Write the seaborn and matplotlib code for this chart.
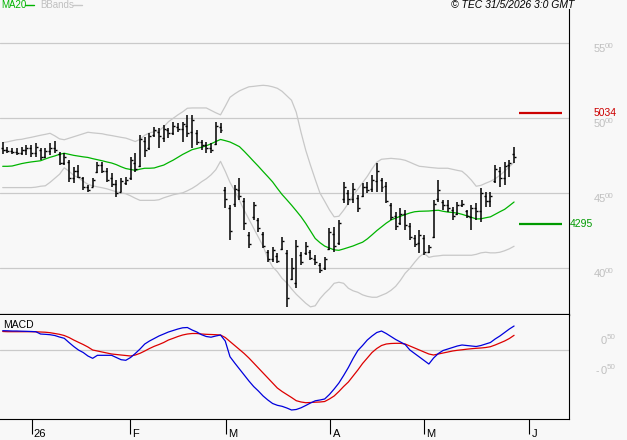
import numpy as np
import pandas as pd
import matplotlib
matplotlib.use("Agg")
import matplotlib.pyplot as plt
from matplotlib.lines import Line2D
from matplotlib.transforms import blended_transform_factory
import seaborn as sns

# ---------------- data ----------------
opens = [4800,4790,4780,4775,4770,4790,4800,4770,4790,4745,
         4780,4800,4760,4700,4710,4600,4650,4600,4540,4545,
         4640,4690,4650,4600,4560,4510,4570,4600,4700,4680,
         4850,4800,4890,4910,4870,4920,4900,4940,4930,4950,
         4910,4900,4840,4820,4800,4830,4940,4520,4400,4430,
         4520,4450,4220,4340,4320,4230,4110,4060,4080,4130,
         4100,3930,3900,4090,4100,4110,4060,4020,4000,4130,
         4230,4170,4460,4500,4460,4470,4480,4540,4530,4580,
         4590,4550,4420,4350,4300,4360,4280,4200,4170,4200,
         4110,4210,4460,4440,4420,4390,4360,4420,4380,4340,
         4400,4380,4480,4450,4580,4650,4600,4690,4760]
highs = [4840,4807,4800,4800,4807,4820,4820,4833,4800,4800,
         4833,4847,4773,4767,4720,4673,4687,4607,4553,4600,
         4707,4707,4667,4633,4587,4600,4607,4740,4767,4887,
         4873,4900,4940,4933,4953,4933,4973,4967,4973,5020,
         5020,4920,4853,4840,4833,4973,4967,4540,4420,4553,
         4600,4467,4240,4440,4333,4240,4120,4140,4100,4207,
         4120,4067,4187,4107,4173,4120,4087,4033,4073,4267,
         4273,4320,4573,4520,4567,4487,4567,4573,4620,4700,
         4600,4573,4433,4373,4400,4387,4300,4220,4253,4220,
         4153,4453,4587,4453,4453,4407,4440,4453,4387,4420,
         4433,4533,4507,4507,4687,4673,4707,4720,4807]
lows = [4760,4767,4760,4753,4753,4753,4740,4740,4720,4733,
        4753,4767,4687,4687,4573,4567,4600,4520,4507,4540,
        4633,4633,4573,4540,4473,4507,4553,4587,4640,4673,
        4740,4787,4873,4800,4840,4867,4887,4907,4840,4873,
        4800,4820,4787,4767,4767,4820,4900,4400,4187,4407,
        4453,4253,4133,4320,4240,4133,4040,4040,4033,4120,
        3740,3920,3867,4020,4087,4053,4020,3967,3987,4120,
        4107,4153,4433,4420,4433,4373,4473,4500,4507,4507,
        4507,4433,4320,4253,4287,4253,4187,4140,4100,4087,
        4100,4200,4440,4387,4373,4320,4353,4407,4333,4253,
        4320,4307,4407,4407,4567,4540,4553,4607,4700]
closes = [4790,4780,4775,4770,4790,4800,4770,4810,4740,4780,
          4800,4790,4700,4740,4600,4650,4610,4540,4520,4590,
          4690,4650,4590,4560,4500,4580,4590,4720,4660,4860,
          4790,4880,4920,4880,4930,4900,4950,4930,4960,4900,
          4990,4840,4820,4800,4790,4950,4920,4460,4250,4530,
          4480,4300,4160,4420,4270,4150,4060,4120,4050,4180,
          3800,4000,4150,4040,4150,4070,4040,3990,4060,4240,
          4150,4300,4540,4460,4530,4400,4540,4520,4590,4650,
          4540,4450,4340,4280,4360,4290,4210,4160,4220,4110,
          4140,4430,4520,4420,4400,4350,4420,4430,4350,4400,
          4380,4500,4450,4480,4660,4600,4680,4700,4740]
ma20 = [4680,4680,4682,4690,4698,4704,4709,4713,4717,4729,
        4740,4749,4760,4767,4760,4753,4748,4743,4739,4731,
        4724,4717,4709,4702,4691,4677,4665,4659,4653,4661,
        4667,4667,4669,4679,4688,4705,4721,4740,4759,4775,
        4791,4799,4807,4817,4830,4845,4859,4851,4842,4827,
        4811,4780,4747,4713,4680,4645,4611,4576,4533,4492,
        4457,4421,4383,4344,4299,4249,4199,4171,4148,4135,
        4123,4120,4129,4139,4149,4162,4174,4196,4223,4251,
        4276,4301,4322,4335,4347,4358,4369,4377,4380,4381,
        4382,4385,4387,4380,4375,4372,4368,4360,4350,4340,
        4329,4330,4337,4343,4360,4377,4393,4417,4442]
bb_upper = [4837,4843,4850,4857,4860,4867,4873,4880,4887,4893,
            4900,4883,4863,4857,4867,4877,4887,4897,4907,4903,
            4900,4897,4890,4885,4879,4873,4868,4857,4845,4860,
            4887,4903,4910,4917,4943,4977,5000,5023,5043,5067,
            5069,5069,5069,5069,5053,5037,5023,5080,5140,5163,
            5183,5197,5210,5213,5217,5220,5217,5210,5200,5180,
            5150,5120,5040,4907,4787,4687,4593,4502,4447,4390,
            4343,4347,4387,4433,4487,4527,4570,4613,4663,4707,
            4727,4730,4733,4730,4727,4720,4707,4693,4680,4677,
            4673,4670,4667,4667,4667,4660,4653,4647,4620,4587,
            4547,4553,4567,4580,4597,4620,4647,4677,4707]
bb_lower = [4538,4538,4538,4538,4538,4538,4538,4541,4547,4550,
            4573,4600,4627,4670,4647,4620,4603,4580,4560,4550,
            4543,4537,4530,4520,4510,4503,4497,4483,4467,4453,
            4453,4453,4453,4457,4470,4480,4490,4497,4503,4517,
            4533,4553,4577,4597,4623,4657,4713,4647,4573,4517,
            4453,4387,4327,4267,4207,4147,4067,4010,3977,3933,
            3903,3863,3827,3797,3767,3743,3750,3797,3833,3863,
            3900,3907,3900,3867,3850,3840,3823,3813,3807,3807,
            3820,3833,3853,3880,3920,3967,4000,4040,4077,4100,
            4073,4080,4083,4087,4087,4087,4087,4087,4087,4087,
            4093,4103,4107,4103,4103,4107,4117,4130,4147]
macd = [64.3,64,63.3,63.3,62.7,62.3,61.7,61,53.3,52.3,
        51,48.3,43.3,39,25,11.7,0,-8.3,-20,-27.7,
        -17.7,-17.7,-17.7,-17.7,-25,-32.3,-34.3,-25,-11.7,3.3,
        20,30,38.3,46.7,53.3,60,65,70,74,75,
        66.7,60,51,45,42.7,46.7,50,30,-22.3,-43.3,
        -63.3,-83.3,-103.3,-121.7,-136.7,-153.3,-166.7,-178.3,-184.3,-187.7,
        -193.3,-200,-198.3,-192.7,-185,-176.7,-169.3,-166.7,-163.3,-148.3,
        -130,-110,-85,-58.3,-28.3,-1.7,15,33.3,46.7,58.3,
        63.3,55,45,35,26.7,18.3,0,-11.7,-23.3,-35,
        -46.7,-26.7,-11.7,-1.7,3.3,8.3,13.3,16.7,15,13.3,
        11.7,15,20,25,36.7,46.7,58.3,70,80]
signal = [61.7,61,61,61,61,61,61,60.7,60,59.3,
          57.7,55,52.3,48.3,41.7,33.3,25.7,18.3,10,0,
          -3.3,-6.7,-10,-13.3,-15,-16.7,-18.3,-20,-16.7,-11,
          -3.3,5,12.3,18.3,25,33.3,39,45,50,53.3,
          55,55,53.3,52.3,51.7,51,50,41.7,28.3,15,
          1.7,-11.7,-26.7,-43.3,-60,-76.7,-93.3,-110,-126.7,-138.3,
          -148.3,-158.3,-169,-173.3,-175.7,-175,-174,-173.3,-171.7,-163.3,
          -153.3,-138.3,-121.7,-106.7,-86.7,-66.7,-45,-26.7,-8.3,5,
          15,20,21.7,22.3,22.3,20,13.3,6.7,0,-6.7,
          -13.3,-16.7,-13.3,-10,-6.7,-3.3,-1,0.7,2.7,4.3,
          5.7,6.7,8.3,11,16.7,23.3,30,38.3,49]
levels = [5034, 4295]
level_labels = ["5034", "4295"]
price_ticks = [5500, 5000, 4500, 4000]
macd_ticks = [50, -50]
month_labels = ["26", "F", "M", "A", "M", "J"]
month_pos = [6.12, 26.88, 47.1, 69.2, 89.0, 111.2]

# ---------------- style ----------------
BG = "#f8f8f8"
sns.set_theme(style="white", rc={"axes.facecolor": BG, "figure.facecolor": BG})
plt.rcParams["font.family"] = ["Liberation Sans", "DejaVu Sans"]

W, H = 627, 440
fig = plt.figure(figsize=(W / 100, H / 100), dpi=100, facecolor=BG)
fx = lambda p: p / W
fy = lambda p: 1 - p / H

PX0, PXS = 2.7, 4.735
xlim = (-PX0 / PXS, (569 - PX0) / PXS)

ax = fig.add_axes([0, fy(315), fx(569), (315 - 9) / H])
ax2 = fig.add_axes([0, fy(419), fx(569), (419 - 315) / H])

n = len(closes)
idx = np.arange(n)
df = pd.DataFrame({"idx": idx, "open": opens, "high": highs, "low": lows,
                   "close": closes, "ma20": ma20, "up": bb_upper, "lo": bb_lower,
                   "macd": macd, "signal": signal})

TICK_GRAY = "#c0c0c0"

# ---------------- price panel ----------------
ax.set_xlim(*xlim)
ax.set_ylim(4000 - 46.7 / 0.15, 4000 + 259.3 / 0.15)
for t in price_ticks:
    ax.axhline(t, color="#cacaca", lw=0.9, zorder=0)

sns.lineplot(data=df, x="idx", y="up", ax=ax, color="#c8c8c8", lw=0.9,
             estimator=None, sort=False, legend=False, zorder=1)
sns.lineplot(data=df, x="idx", y="lo", ax=ax, color="#c8c8c8", lw=0.9,
             estimator=None, sort=False, legend=False, zorder=1)
sns.lineplot(data=df, x="idx", y="ma20", ax=ax, color="#00b400", lw=0.9,
             estimator=None, sort=False, legend=False, zorder=2)

tw = 0.42
ax.vlines(df["idx"], df["low"], df["high"], color="black", lw=1.1, zorder=3)
ax.hlines(df["open"], df["idx"] - tw, df["idx"], color="black", lw=1.0, zorder=3)
ax.hlines(df["close"], df["idx"], df["idx"] + tw, color="black", lw=1.0, zorder=3)

lvl_cols = ["#cc0000", "#009a00"]
lx0, lx1 = (519 - PX0) / PXS, (562 - PX0) / PXS
for v, c in zip(levels, lvl_cols):
    ax.hlines(v, lx0, lx1, color=c, lw=1.6, zorder=3)

ax.set_xticks([]); ax.set_yticks([])
ax.set_xlabel(""); ax.set_ylabel("")
for s in ["left", "top"]:
    ax.spines[s].set_visible(False)
ax.spines["right"].set_color("black"); ax.spines["right"].set_linewidth(0.8)
ax.spines["bottom"].set_color("black"); ax.spines["bottom"].set_linewidth(1.6)

ty = blended_transform_factory(fig.transFigure, ax.transData)
for t in price_ticks:
    s = str(t)
    ax.text(fx(594), t - 4, s[:2], transform=ty, fontsize=8, color=TICK_GRAY, va="top")
    ax.text(fx(605), t + 3, s[2:], transform=ty, fontsize=5.8, color=TICK_GRAY, va="top")
for v, lab, c, px in zip(levels, level_labels, lvl_cols, [594, 570]):
    ax.text(fx(px), v, lab, transform=ty, fontsize=7.5, color=c, va="center")

# ---------------- MACD panel ----------------
ax2.set_xlim(*xlim)
ax2.set_ylim(-230, 116.7)
ax2.axhline(0, color="#cacaca", lw=0.9, zorder=0)
sns.lineplot(data=df, x="idx", y="signal", ax=ax2, color="#dd0000", lw=0.9,
             estimator=None, sort=False, legend=False, zorder=2)
sns.lineplot(data=df, x="idx", y="macd", ax=ax2, color="#0000dd", lw=0.9,
             estimator=None, sort=False, legend=False, zorder=2)
ax2.set_xlabel(""); ax2.set_ylabel(""); ax2.set_yticks([])
ax2.set_xticks(month_pos)
ax2.set_xticklabels([])
ax2.tick_params(axis="x", direction="out", length=11, width=0.8, color="black", bottom=True)
for s in ["left", "top"]:
    ax2.spines[s].set_visible(False)
for s in ["right", "bottom"]:
    ax2.spines[s].set_color("black"); ax2.spines[s].set_linewidth(0.8)

ty2 = blended_transform_factory(fig.transFigure, ax2.transData)
for t in macd_ticks:
    if t < 0:
        ax2.text(fx(596), t - 3, "-", transform=ty2, fontsize=7.5, color=TICK_GRAY, va="top")
    ax2.text(fx(601), t - 3, "0", transform=ty2, fontsize=8, color=TICK_GRAY, va="top")
    ax2.text(fx(607), t + 2, str(abs(t)), transform=ty2, fontsize=5.8, color=TICK_GRAY, va="top")
ax2.text(fx(3), fy(320), "MACD", transform=fig.transFigure, fontsize=7.5, color="black", va="top")

tx = blended_transform_factory(ax2.transData, fig.transFigure)
for p, lab in zip(month_pos, month_labels):
    fig.text(p + 0.45, fy(428.5), lab, transform=tx, fontsize=8, color="black", va="top", ha="left")

# ---------------- header ----------------
fig.text(fx(1), fy(5), "MA20", fontsize=7, color="#00b400", va="center")
fig.add_artist(Line2D([fx(25), fx(34)], [fy(5), fy(5)], color="#00b400", lw=1.0))
fig.text(fx(40), fy(5), "BBands", fontsize=7, color=TICK_GRAY, va="center")
fig.add_artist(Line2D([fx(73), fx(82)], [fy(5), fy(5)], color="#c8c8c8", lw=1.0))
fig.text(fx(574), fy(5), "\u00a9 TEC 31/5/2026 3:0 GMT", fontsize=7.5, style="italic",
         color="black", va="center", ha="right")

fig.savefig("out.png", dpi=100, facecolor=BG)
